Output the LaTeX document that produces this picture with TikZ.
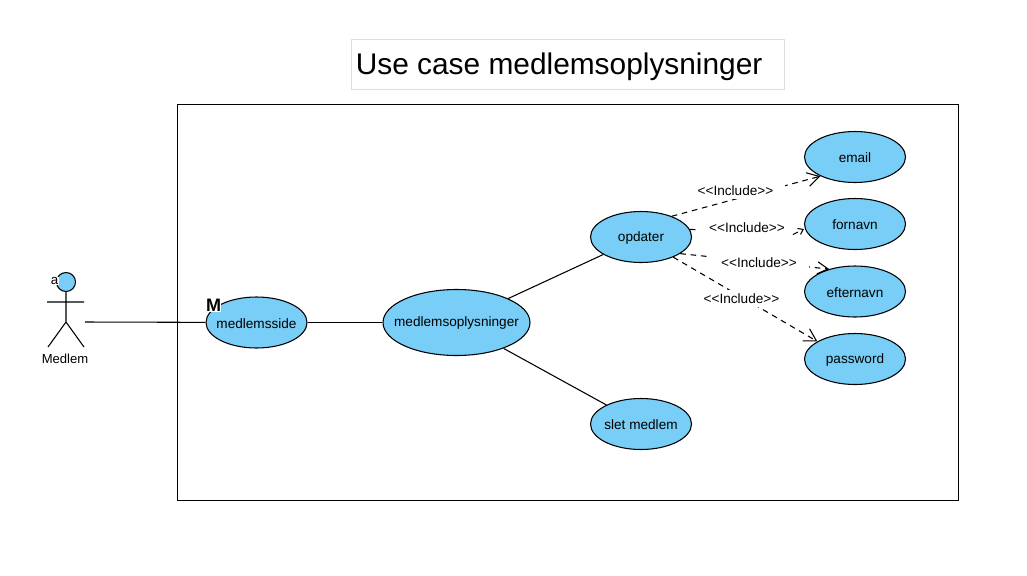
\documentclass[tikz,border=0pt]{standalone}
\usepackage{fontspec}
\setmainfont{Liberation Sans}
\usetikzlibrary{arrows.meta,shapes.geometric}
\definecolor{ucfill}{HTML}{78CEF7}
\tikzset{
  line/.style={draw=black,line width=0.8pt},
  usecase/.style={ellipse,line,fill=ucfill,inner xsep=-25pt,inner ysep=0pt,text height=8.6pt,minimum width=75.75pt,minimum height=38.25pt,font=\fontsize{10.2pt}{12pt}\selectfont},
  incl/.style={line,dash pattern=on 4.2pt off 3.6pt,-{Straight Barb[length=9pt,width=10.5pt,line width=0.8pt]}},
  incllabel/.style={fill=white,inner sep=0pt,minimum width=75pt,minimum height=12.75pt,font=\fontsize{10.2pt}{12pt}\selectfont},
}
\begin{document}
\begin{tikzpicture}[x=0.75pt,y=-0.75pt]
\useasboundingbox (0,0) rectangle (1027,575);
\node[draw=black!13,line width=0.75pt,minimum width=324.75pt,minimum height=37.5pt,inner sep=0pt] (titlebox) at (568,64.5) {};
\node[anchor=west,inner sep=0pt,font=\fontsize{22.4pt}{26pt}\selectfont] (title) at (355.5,66.5) {Use case medlemsoplysninger};
\node[line,minimum width=585.75pt,minimum height=297pt,inner sep=0pt] (system) at (568,302.5) {};

\node[circle,line,fill=ucfill,minimum size=14.25pt,inner sep=0pt] (head) at (66,282) {};
\coordinate (shoulderL) at (47,302);
\coordinate (shoulderR) at (84,302);
\coordinate (hip) at (66,322);
\coordinate (footL) at (48,347);
\coordinate (footR) at (84,347);
\coordinate (hand) at (85,322);
\draw[line] (head) -- (hip) (shoulderL) -- (shoulderR) (footL) -- (hip) -- (footR);
\node[font=\fontsize{9.8pt}{12pt}\selectfont,inner sep=0pt] (actor) at (65,359) {Medlem};
\node[fill=white,inner sep=0.3pt,font=\fontsize{10pt}{12pt}\selectfont] (amark) at (54.5,281) {a};

\node[usecase] (side) at (256.5,322.5) {medlemsside};
\node[usecase,minimum width=110.25pt,minimum height=49.5pt] (oplys) at (456.5,322.5) {medlemsoplysninger};
\node[usecase] (opdater) at (641,237) {opdater};
\node[usecase] (slet) at (641,424) {slet medlem};
\node[usecase] (email) at (855,157) {email};
\node[usecase] (fornavn) at (855,224) {fornavn};
\node[usecase] (efternavn) at (855,291.5) {efternavn};
\node[usecase] (password) at (855,359) {password};
\node[fill=white,inner sep=0.3pt,font=\bfseries\fontsize{13.5pt}{14pt}\selectfont] (mmark) at (213.5,305.5) {M};

\draw[line] (hand) -- (side);
\draw[line] (side) -- (oplys);
\draw[line] (oplys) -- (opdater);
\draw[line] (oplys) -- (slet);

\coordinate (bend) at (788,237);
\draw[incl] (opdater.34) -- (email.209);
\draw[incl,-{Straight Barb[length=3.5pt,width=5pt,line width=0.8pt]}] (opdater.9) -- (bend) -- (fornavn.west |- 0,229);
\draw[incl,-{Straight Barb[length=8pt,width=9pt,line width=0.8pt]}] (opdater.-23) -- (efternavn.139);
\draw[incl] (opdater.-32) -- (password.155);

\node[incllabel,minimum width=73.5pt] (l1) at (735.5,190.5) {{<}{<}Include{>}{>}};
\node[incllabel,minimum width=69pt,minimum height=15pt] (l2) at (745,227.5) {\hspace{3pt}{<}{<}Include{>}{>}};
\node[incllabel] (l3) at (759,262.5) {{<}{<}Include{>}{>}};
\node[incllabel] (l4) at (741.5,298.5) {{<}{<}Include{>}{>}};
\end{tikzpicture}
\end{document}
